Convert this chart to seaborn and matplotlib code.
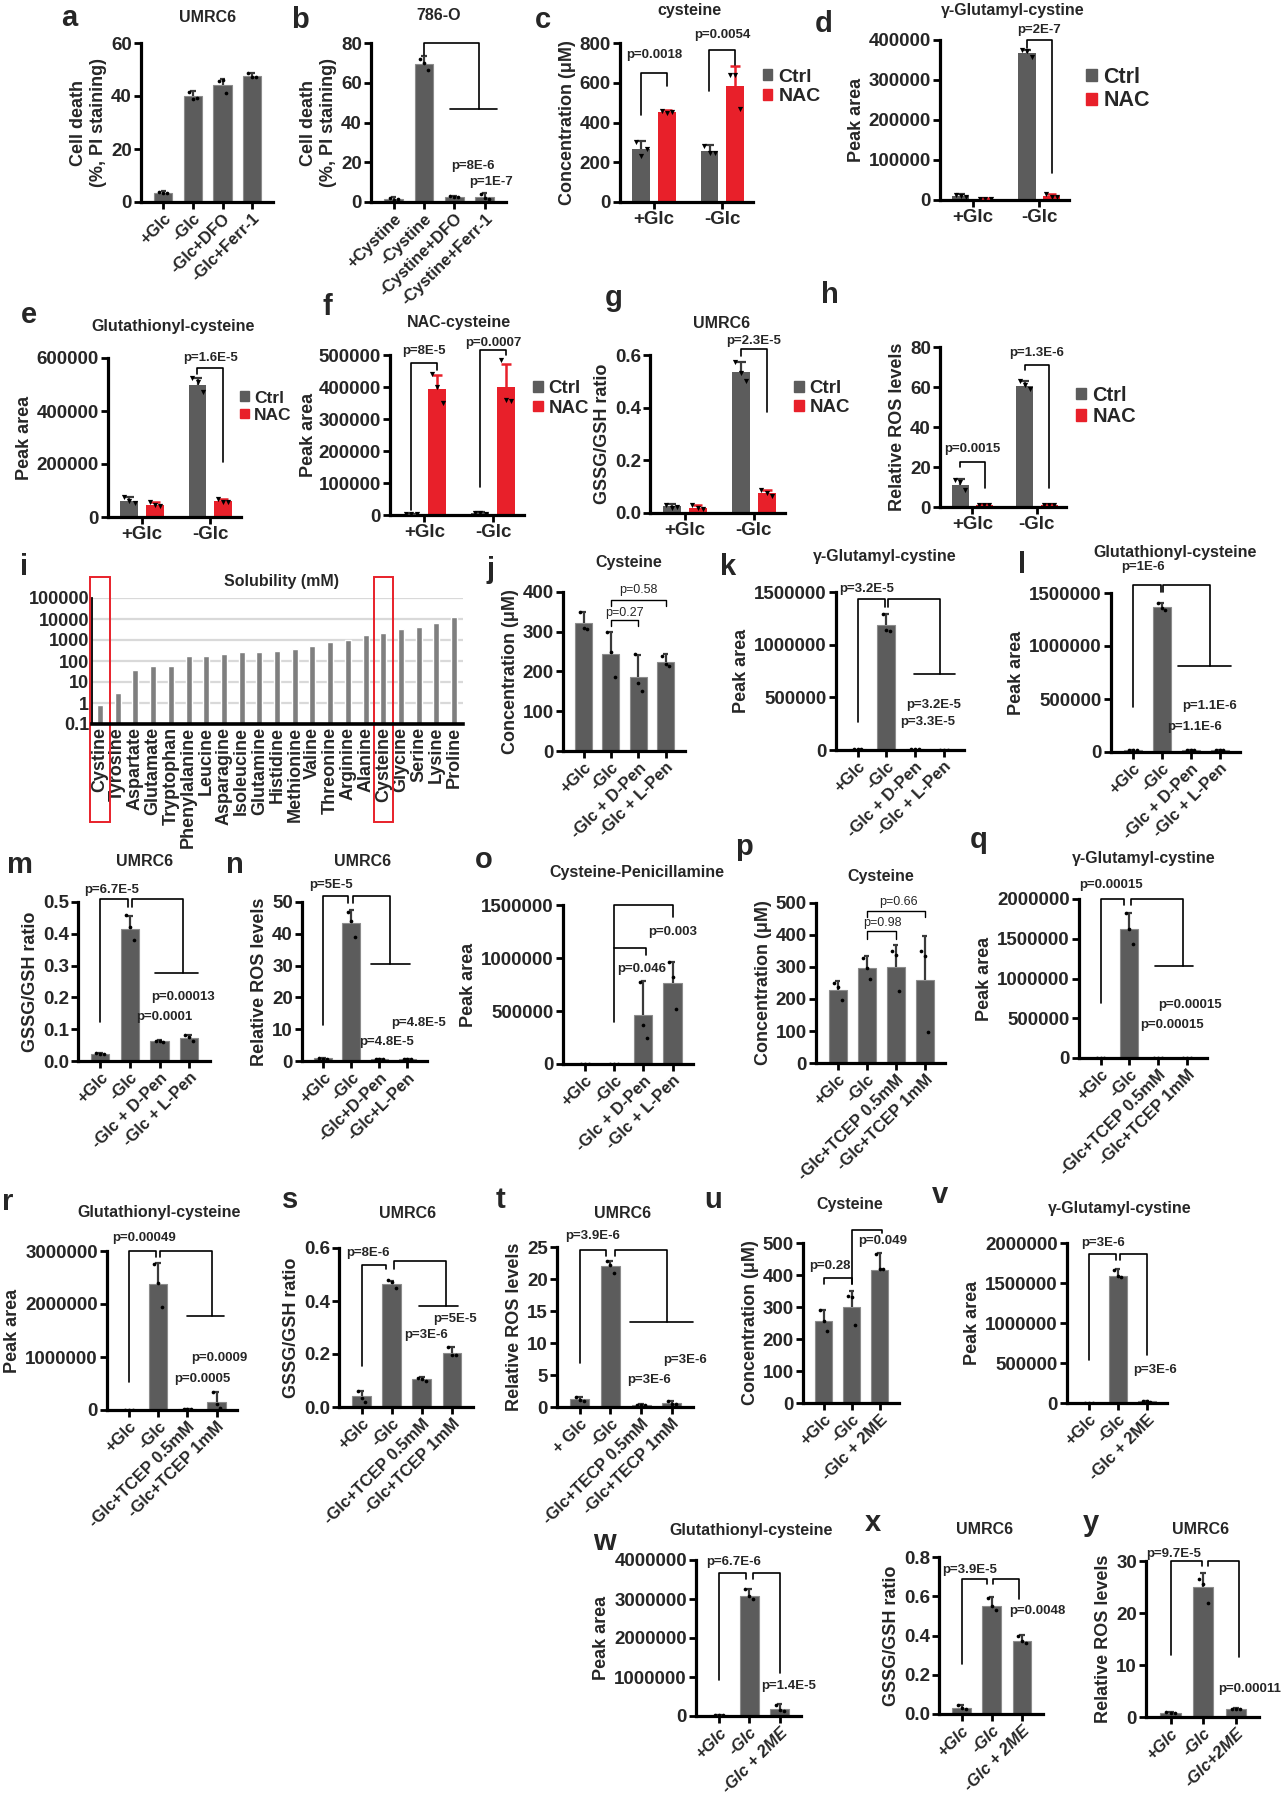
import numpy as np
import pandas as pd
import matplotlib
matplotlib.use('Agg')
import matplotlib.pyplot as plt
import seaborn as sns
from matplotlib.patches import Rectangle
from matplotlib.transforms import blended_transform_factory

sns.set_theme(style='ticks')
plt.rcParams['font.family'] = ['Liberation Sans', 'DejaVu Sans']
plt.rcParams['font.weight'] = 'bold'
NARROW = ['Liberation Sans Narrow', 'Liberation Sans', 'DejaVu Sans']

BAR = '#5c5c5c'
EDGE = '#8c8c8c'
ERR = '#3a3a3a'
RED = '#e8202a'
W, H = 1281, 1800
TICK = 13.5
XTICK = 12
YLAB = 13

# ---------------- data ----------------
a_labels = ['+Glc', '-Glc', '-Glc+DFO', '-Glc+Ferr-1']
a_mean = [3.5, 40, 44, 47.5]
a_sd = [0.5, 1.8, 2.5, 1.2]
a_pts = [[3.8, 3.3, 3.4], [41.5, 38.8, 39.2], [45.5, 46, 41], [48.5, 47, 47.3]]

b_labels = ['+Cystine', '-Cystine', '-Cystine+DFO', '-Cystine+Ferr-1']
b_mean = [1.5, 69.5, 2.5, 2.5]
b_sd = [0.8, 4.0, 0.6, 1.8]
b_pts = [[1.8, 1.0, 1.5], [72, 70, 66.5], [2.8, 2.3, 2.5], [3.8, 2.0, 1.6]]

groups = ['+Glc', '-Glc']
treat = ['Ctrl', 'NAC']

c_ctrl = [265, 255]
c_ctrl_sd = [40, 30]
c_nac = [455, 585]
c_nac_sd = [10, 100]
c_ctrl_pts = [[300, 230, 265], [280, 245, 245]]
c_nac_pts = [[458, 450, 455], [640, 640, 470]]

d_ctrl = [10000, 368000]
d_ctrl_sd = [4000, 8000]
d_nac = [3000, 10000]
d_nac_sd = [1000, 6000]
d_ctrl_pts = [[12000, 9000, 8000], [376000, 372000, 358000]]
d_nac_pts = [[3000, 3000, 3000], [15000, 8000, 7000]]

e_ctrl = [62000, 500000]
e_ctrl_sd = [15000, 25000]
e_nac = [47000, 60000]
e_nac_sd = [8000, 8000]
e_ctrl_pts = [[75000, 60000, 52000], [525000, 510000, 470000]]
e_nac_pts = [[55000, 45000, 42000], [68000, 58000, 55000]]

f_ctrl = [3000, 5000]
f_ctrl_sd = [1000, 3000]
f_nac = [395000, 400000]
f_nac_sd = [42000, 72000]
f_ctrl_pts = [[3000, 3000, 3000], [7000, 5000, 4000]]
f_nac_pts = [[440000, 400000, 350000], [485000, 360000, 355000]]

g_ctrl = [0.025, 0.535]
g_ctrl_sd = [0.01, 0.04]
g_nac = [0.02, 0.077]
g_nac_sd = [0.01, 0.01]
g_ctrl_pts = [[0.032, 0.02, 0.022], [0.575, 0.53, 0.5]]
g_nac_pts = [[0.03, 0.02, 0.015], [0.088, 0.075, 0.065]]

h_ctrl = [11, 60.5]
h_ctrl_sd = [3, 2.5]
h_nac = [1.0, 1.0]
h_nac_sd = [0.3, 0.3]
h_ctrl_pts = [[13.5, 12.5, 8.5], [63, 61, 59]]
h_nac_pts = [[1, 1, 1], [1, 1, 1]]

i_names = ['Cystine', 'Tyrosine', 'Aspartate', 'Glutamate', 'Tryptophan', 'Phenylalanine',
           'Leucine', 'Asparagine', 'Isoleucine', 'Glutamine', 'Histidine', 'Methionine',
           'Valine', 'Threonine', 'Arginine', 'Alanine', 'Cysteine', 'Glycine', 'Serine',
           'Lysine', 'Proline']
i_sol = [0.8, 2.9, 38, 61, 61, 165, 165, 220, 255, 255, 308, 370, 494, 795, 955, 1780,
         2140, 3460, 4150, 6450, 12500]

pen_labels = ['+Glc', '-Glc', '-Glc + D-Pen', '-Glc + L-Pen']
pen_labels_n = ['+Glc', '-Glc', '-Glc+D-Pen', '-Glc+L-Pen']
tcep_labels = ['+Glc', '-Glc', '-Glc+TCEP 0.5mM', '-Glc+TCEP 1mM']
tecp_labels = ['+ Glc', '-Glc', '-Glc+TECP 0.5mM', '-Glc+TECP 1mM']
me_labels = ['+Glc', '-Glc', '-Glc + 2ME']
me_labels_y = ['+Glc', '-Glc', '-Glc+2ME']

j_mean = [322, 245, 187, 225]
j_sd = [28, 55, 55, 18]
j_pts = [[350, 310, 308], [300, 250, 185], [245, 170, 150], [240, 220, 215]]

k_mean = [5000, 1190000, 5000, 3000]
k_sd = [0, 100000, 0, 0]
k_pts = [[5000] * 3, [1290000, 1140000, 1130000], [5000] * 3, [3000] * 3]

l_mean = [15000, 1370000, 20000, 20000]
l_sd = [3000, 40000, 3000, 3000]
l_pts = [[15000] * 3, [1410000, 1360000, 1340000], [20000] * 3, [20000] * 3]

m_mean = [0.022, 0.415, 0.063, 0.073]
m_sd = [0.003, 0.04, 0.002, 0.01]
m_pts = [[0.024, 0.022, 0.021], [0.46, 0.42, 0.38], [0.064, 0.064, 0.061], [0.082, 0.075, 0.063]]

n_mean = [0.8, 43.5, 0.5, 0.5]
n_sd = [0.3, 4, 0.2, 0.1]
n_pts = [[1, 0.7, 0.7], [47, 44, 39], [0.5, 0.5, 0.5], [0.6, 0.5, 0.5]]

o_mean = [0, 0, 460000, 768000]
o_sd = [0, 0, 320000, 190000]
o_pts = [[0] * 3, [0] * 3, [777000, 368000, 242000], [965000, 824000, 516000]]

p_mean = [228, 298, 300, 258]
p_sd = [27, 35, 68, 140]
p_pts = [[250, 238, 197], [327, 296, 264], [350, 338, 226], [349, 333, 97]]

q_mean = [0, 1620000, 0, 0]
q_sd = [0, 200000, 0, 0]
q_pts = [[0] * 3, [1820000, 1620000, 1430000], [0] * 3, [0] * 3]

r_mean = [5000, 2370000, 20000, 160000]
r_sd = [0, 400000, 5000, 180000]
r_pts = [[5000] * 3, [2750000, 2400000, 1950000], [25000, 20000, 15000], [340000, 110000, 30000]]

s_mean = [0.04, 0.465, 0.105, 0.205]
s_sd = [0.02, 0.012, 0.008, 0.02]
s_pts = [[0.06, 0.035, 0.02], [0.48, 0.47, 0.45], [0.11, 0.105, 0.1], [0.225, 0.195, 0.195]]

t_mean = [1.2, 22, 0.3, 0.6]
t_sd = [0.4, 0.8, 0.1, 0.3]
t_pts = [[1.6, 1.1, 1.0], [22.8, 22.2, 21], [0.35, 0.3, 0.25], [1, 0.5, 0.4]]

u_mean = [255, 300, 415]
u_sd = [35, 50, 55]
u_pts = [[290, 255, 225], [335, 330, 245], [465, 420, 420]]

v_mean = [3000, 1590000, 20000]
v_sd = [0, 80000, 5000]
v_pts = [[3000] * 3, [1660000, 1590000, 1570000], [25000, 20000, 15000]]

w_mean = [20000, 3080000, 180000]
w_sd = [5000, 180000, 120000]
w_pts = [[20000] * 3, [3250000, 3070000, 3000000], [290000, 160000, 120000]]

x_mean = [0.033, 0.55, 0.37]
x_sd = [0.012, 0.045, 0.035]
x_pts = [[0.045, 0.03, 0.025], [0.59, 0.55, 0.53], [0.4, 0.37, 0.36]]

y_mean = [0.8, 25, 1.5]
y_sd = [0.15, 2.6, 0.2]
y_pts = [[0.9, 0.8, 0.8], [26.5, 25.5, 22], [1.6, 1.5, 1.5]]

# ---------------- helpers ----------------
fig = plt.figure(figsize=(12.81, 18), dpi=100)
OFF = np.array([-0.13, 0.0, 0.13])


def add_ax(x0, y0, x1, y1):
    return fig.add_axes([x0 / W, 1 - y1 / H, (x1 - x0) / W, (y1 - y0) / H])


def ftext(x, y, s, size=11.5, **kw):
    fig.text(x / W, 1 - y / H, s, ha='center', va='center', fontsize=size,
             fontweight='bold', **kw)


def line(ax, xs, ys, lw=1.2):
    ax.plot(xs, ys, color='black', lw=lw, clip_on=False, zorder=6)


def ptext(ax, x, y, s, bold=True):
    ax.text(x, y, s, ha='center', va='center', fontsize=9.5 if bold else 9,
            fontweight='bold' if bold else 'normal', family=NARROW, clip_on=False)


def errs(ax, xs, mean, sd, cap=0.09):
    for x, m, e in zip(xs, mean, sd):
        if e > 0:
            ax.vlines(x, m, m + e, color=ERR, lw=1.6, zorder=3)
            ax.hlines(m + e, x - cap, x + cap, color=ERR, lw=1.6, zorder=3)


def finish(ax, ylim, step, ylabel, fmt, rot=45, italic=False, lpad=3):
    ticks = np.arange(ylim[0], ylim[1] + step / 2, step)
    ax.set_ylim(*ylim)
    ax.set_yticks(ticks)
    ax.set_yticklabels([fmt.format(v) for v in ticks])
    ax.set_xlabel('')
    ax.set_ylabel(ylabel, fontsize=YLAB, fontweight='bold', labelpad=lpad)
    sns.despine(ax=ax)
    for s in ['left', 'bottom']:
        ax.spines[s].set_linewidth(2.3)
        ax.spines[s].set_color('black')
    ax.tick_params(axis='both', width=2, length=5, labelsize=TICK, pad=1.5, color='black')
    for lab in ax.get_yticklabels():
        lab.set_fontweight('bold')
    for lab in ax.get_xticklabels():
        lab.set_fontweight('bold')
        if italic:
            lab.set_fontstyle('italic')
        if rot:
            lab.set_fontsize(XTICK)
            lab.set_rotation(rot)
            lab.set_ha('right')
            lab.set_rotation_mode('anchor')


def single(rect, labels, mean, sd, pts, ylim, step, ylabel, fmt='{:.0f}', italic=False):
    ax = add_ax(*rect)
    df = pd.DataFrame({'cond': labels, 'val': mean})
    sns.barplot(data=df, x='cond', y='val', color=BAR, width=0.62, errorbar=None,
                edgecolor=EDGE, linewidth=0.8, saturation=1, ax=ax)
    n = len(labels)
    errs(ax, range(n), mean, sd)
    for i, p in enumerate(pts):
        ax.scatter(i + OFF, p, s=7, color='black', zorder=4, linewidths=0)
    ax.set_xlim(-0.75, n - 0.3)
    finish(ax, ylim, step, ylabel, fmt, italic=italic)
    return ax


def grouped(rect, ctrl, ctrl_sd, nac, nac_sd, ctrl_pts, nac_pts, ylim, step, ylabel,
            fmt='{:.0f}', leg_x=1.0, leg_y=0.9, leg_fs=13, lpad=3):
    ax = add_ax(*rect)
    df = pd.DataFrame({'grp': [g for g in groups for _ in treat],
                       'trt': treat * len(groups),
                       'val': [v for pair in zip(ctrl, nac) for v in pair]})
    sns.barplot(data=df, x='grp', y='val', hue='trt', hue_order=treat,
                palette={'Ctrl': BAR, 'NAC': RED}, width=0.75, gap=0.3,
                errorbar=None, saturation=1, legend=False, ax=ax,
                edgecolor='none')
    xc = np.arange(len(groups)) - 0.1875
    xn = np.arange(len(groups)) + 0.1875
    errs(ax, xc, ctrl, ctrl_sd, cap=0.07)
    for x, m, e in zip(xn, nac, nac_sd):
        if e > 0:
            ax.vlines(x, m, m + e, color=RED, lw=1.8, zorder=3)
            ax.hlines(m + e, x - 0.07, x + 0.07, color=RED, lw=1.8, zorder=3)
    for x, p in zip(list(xc) + list(xn), ctrl_pts + nac_pts):
        ax.scatter(x + OFF * 0.6, p, s=14, marker='v', color='black', zorder=4, linewidths=0)
    ax.set_xlim(-0.5, 1.45)
    finish(ax, ylim, step, ylabel, fmt, rot=0, lpad=lpad)
    handles = [Rectangle((0, 0), 1, 1, color=BAR), Rectangle((0, 0), 1, 1, color=RED)]
    ax.legend(handles, treat, loc='upper left', bbox_to_anchor=(leg_x, leg_y), frameon=False,
              handlelength=0.5, handleheight=0.5, handletextpad=0.3, labelspacing=0.12,
              fontsize=leg_fs, borderaxespad=0.1)
    return ax


# ---------------- row 1 ----------------
ax = single((141, 43, 273, 202), a_labels, a_mean, a_sd, a_pts, (0, 60), 20,
            'Cell death\n(%, PI staining)')
ftext(208, 18, 'UMRC6')
ftext(69, 18, 'a', size=21)

ax = single((371, 43, 506, 202), b_labels, b_mean, b_sd, b_pts, (0, 80), 20,
            'Cell death\n(%, PI staining)')
line(ax, [1, 1, 2.8, 2.8], [74, 80, 80, 47])
line(ax, [1.85, 3.4], [47, 47])
ptext(ax, 2.6, 18, 'p=8E-6')
ptext(ax, 3.2, 10, 'p=1E-7')
ftext(439, 15, '786-O')
ftext(300, 20, 'b', size=21)

ax = grouped((620, 43, 753, 202), c_ctrl, c_ctrl_sd, c_nac, c_nac_sd, c_ctrl_pts, c_nac_pts,
             (0, 800), 200, 'Concentration (μM)', leg_fs=14)
line(ax, [-0.19, -0.19, 0.19, 0.19], [440, 650, 650, 585])
ptext(ax, 0, 740, 'p=0.0018')
line(ax, [0.81, 0.81, 1.19, 1.19], [560, 766, 766, 690])
ptext(ax, 1, 838, 'p=0.0054')
ftext(689, 10, 'cysteine')
ftext(543, 20, 'c', size=21)

ax = grouped((940, 40, 1069, 200), d_ctrl, d_ctrl_sd, d_nac, d_nac_sd, d_ctrl_pts, d_nac_pts,
             (0, 400000), 100000, 'Peak area', leg_x=1.05, leg_fs=15.5)
line(ax, [0.81, 0.81, 1.19, 1.19], [380000, 401000, 401000, 67000])
ptext(ax, 1, 425000, 'p=2E-7')
ftext(1013, 10, 'γ-Glutamyl-cystine')
ftext(824, 24, 'd', size=21)

# ---------------- row 2 ----------------
ax = grouped((108, 358, 241, 517), e_ctrl, e_ctrl_sd, e_nac, e_nac_sd, e_ctrl_pts, e_nac_pts,
             (0, 600000), 200000, 'Peak area', leg_x=0.93, leg_y=0.85, leg_fs=12.5)
line(ax, [0.81, 0.81, 1.19, 1.19], [540000, 562000, 562000, 206000])
ptext(ax, 1, 600000, 'p=1.6E-5')
ftext(173, 327, 'Glutathionyl-cysteine')
ftext(29, 315, 'e', size=21)

ax = grouped((390, 355, 524, 515), f_ctrl, f_ctrl_sd, f_nac, f_nac_sd, f_ctrl_pts, f_nac_pts,
             (0, 500000), 100000, 'Peak area', leg_y=0.9, leg_fs=13.5, lpad=1)
line(ax, [-0.19, -0.19, 0.19, 0.19], [15600, 476000, 476000, 453000])
ptext(ax, 0, 512000, 'p=8E-5')
line(ax, [0.81, 0.81, 1.19, 1.19], [88500, 516000, 516000, 500000])
ptext(ax, 1, 538000, 'p=0.0007')
ftext(459, 323, 'NAC-cysteine')
ftext(327, 307, 'f', size=21)

ax = grouped((650, 355, 785, 513), g_ctrl, g_ctrl_sd, g_nac, g_nac_sd, g_ctrl_pts, g_nac_pts,
             (0, 0.6), 0.2, 'GSSG/GSH ratio', fmt='{:.1f}', leg_y=0.9, leg_fs=13.5)
line(ax, [0.81, 0.81, 1.19, 1.19], [0.596, 0.621, 0.621, 0.385])
ptext(ax, 1, 0.655, 'p=2.3E-5')
ftext(722, 323, 'UMRC6')
ftext(614, 298, 'g', size=21)

ax = grouped((940, 347, 1066, 507), h_ctrl, h_ctrl_sd, h_nac, h_nac_sd, h_ctrl_pts, h_nac_pts,
             (0, 80), 20, 'Relative ROS levels', leg_y=0.82, leg_fs=14.5)
line(ax, [-0.19, -0.19, 0.19, 0.19], [20.2, 22.7, 22.7, 9.5])
ptext(ax, 0, 29, 'p=0.0015')
line(ax, [0.81, 0.81, 1.19, 1.19], [68.4, 70.9, 70.9, 9.5])
ptext(ax, 1, 77, 'p=1.3E-6')
ftext(830, 295, 'h', size=21)

# ---------------- panel i ----------------
ax = add_ax(92, 598, 463, 724)
df_i = pd.DataFrame({'aa': i_names, 'sol': i_sol})
sns.barplot(data=df_i, x='aa', y='sol', color='#7f7f7f', width=0.34, errorbar=None,
            saturation=1, ax=ax)
ax.set_yscale('log')
ax.set_ylim(0.1, 100000)
ax.set_xlim(-0.45, len(i_names) - 0.5)
ax.set_yticks([0.1, 1, 10, 100, 1000, 10000, 100000])
ax.set_yticklabels(['0.1', '1', '10', '100', '1000', '10000', '100000'])
ax.minorticks_off()
ax.yaxis.grid(True, color='#d9d9d9', lw=1.6)
ax.set_axisbelow(True)
ax.set_xlabel('')
ax.set_ylabel('')
sns.despine(ax=ax)
ax.spines['bottom'].set_linewidth(2.6)
ax.spines['bottom'].set_color('black')
ax.spines['left'].set_linewidth(1.3)
ax.spines['left'].set_color('black')
ax.tick_params(axis='both', length=0, labelsize=13, pad=2)
for lab in ax.get_xticklabels():
    lab.set_rotation(90)
    lab.set_fontweight('bold')
for lab in ax.get_yticklabels():
    lab.set_fontweight('bold')
tr = blended_transform_factory(ax.transData, ax.transAxes)
for k in [i_names.index('Cystine'), i_names.index('Cysteine')]:
    ax.add_patch(Rectangle((k - 0.55, -0.78), 1.1, 1.95, transform=tr, fill=False,
                           edgecolor=RED, lw=1.4, clip_on=False))
ftext(282, 582, 'Solubility (mM)', size=11.5)
ftext(24, 567, 'i', size=21)

# ---------------- row 3 ----------------
ax = single((563, 592, 685, 751), pen_labels, j_mean, j_sd, j_pts, (0, 400), 100,
            'Concentration (μM)')
line(ax, [1, 1, 2, 2], [314, 329, 329, 314], lw=1)
ptext(ax, 1.5, 347, 'p=0.27', bold=False)
line(ax, [1, 1, 3, 3], [366, 381, 381, 366], lw=1)
ptext(ax, 2, 404, 'p=0.58', bold=False)
ftext(629, 563, 'Cysteine')
ftext(490, 570, 'j', size=21)

ax = single((836, 592, 964, 750), pen_labels, k_mean, k_sd, k_pts, (0, 1500000), 500000,
            'Peak area')
line(ax, [0, 0, 0.95, 0.95], [270000, 1437000, 1437000, 1358000])
line(ax, [1.05, 1.05, 2.88, 2.88], [1358000, 1437000, 1437000, 717000])
line(ax, [1.95, 3.4], [717000, 717000])
ptext(ax, 0.33, 1532000, 'p=3.2E-5')
ptext(ax, 2.66, 426000, 'p=3.2E-5')
ptext(ax, 2.44, 268000, 'p=3.3E-5')
ftext(885, 557, 'γ-Glutamyl-cystine')
ftext(728, 567, 'k', size=21)

ax = single((1111, 593, 1240, 752), pen_labels, l_mean, l_sd, l_pts, (0, 1500000), 500000,
            'Peak area')
line(ax, [0, 0, 0.96, 0.96], [427000, 1578000, 1578000, 1509000])
line(ax, [1.04, 1.04, 2.65, 2.65], [1509000, 1578000, 1578000, 813000])
line(ax, [1.55, 3.4], [813000, 813000])
ptext(ax, 0.37, 1745000, 'p=1E-6')
ptext(ax, 2.65, 436000, 'p=1.1E-6')
ptext(ax, 2.13, 238000, 'p=1.1E-6')
ftext(1175, 553, 'Glutathionyl-cysteine')
ftext(1022, 565, 'l', size=21)

# ---------------- row 4 ----------------
ax = single((78, 902, 210, 1061), pen_labels, m_mean, m_sd, m_pts, (0, 0.5), 0.1,
            'GSSG/GSH ratio', fmt='{:.1f}')
line(ax, [0, 0, 0.93, 0.93], [0.123, 0.51, 0.51, 0.484])
line(ax, [1.07, 1.07, 2.8, 2.8], [0.484, 0.51, 0.51, 0.277])
line(ax, [1.86, 3.3], [0.277, 0.277])
ptext(ax, 0.38, 0.539, 'p=6.7E-5')
ptext(ax, 2.8, 0.2, 'p=0.00013')
ptext(ax, 2.17, 0.138, 'p=0.0001')
ftext(145, 862, 'UMRC6')
ftext(20, 865, 'm', size=21)

ax = single((302, 902, 427, 1061), pen_labels_n, n_mean, n_sd, n_pts, (0, 50), 10,
            'Relative ROS levels')
line(ax, [0, 0, 0.9, 0.9], [11.2, 51.8, 51.8, 49.7])
line(ax, [1.07, 1.07, 2.4, 2.4], [49.7, 51.8, 51.8, 30.4])
line(ax, [1.7, 3.1], [30.4, 30.4])
ptext(ax, 0.28, 55.3, 'p=5E-5')
ptext(ax, 3.4, 12, 'p=4.8E-5')
ptext(ax, 2.25, 5.9, 'p=4.8E-5')
ftext(363, 862, 'UMRC6')
ftext(235, 865, 'n', size=21)

ax = single((563, 905, 693, 1064), pen_labels, o_mean, o_sd, o_pts, (0, 1500000), 500000,
            'Peak area')
line(ax, [1, 1, 3, 3], [400000, 1500000, 1500000, 1390000])
line(ax, [1, 2.1, 2.1], [1091000, 1091000, 1028000])
ptext(ax, 3.0, 1248000, 'p=0.003')
ptext(ax, 1.95, 893000, 'p=0.046')
ftext(637, 873, 'Cysteine-Penicillamine')
ftext(484, 860, 'o', size=21)

ax = single((816, 903, 945, 1063), tcep_labels, p_mean, p_sd, p_pts, (0, 500), 100,
            'Concentration (μM)')
line(ax, [1, 1, 2, 2], [387, 411, 411, 387], lw=1)
line(ax, [1, 1, 3, 3], [455, 476, 476, 455], lw=1)
ptext(ax, 1.55, 439, 'p=0.98', bold=False)
ptext(ax, 2.1, 502, 'p=0.66', bold=False)
ftext(881, 877, 'Cysteine')
ftext(744, 847, 'p', size=21)

ax = single((1079, 899, 1207, 1058), tcep_labels, q_mean, q_sd, q_pts, (0, 2000000), 500000,
            'Peak area')
line(ax, [0, 0, 0.82, 0.82], [692000, 2000000, 2000000, 1929000])
line(ax, [1.05, 1.05, 2.85, 2.85], [1929000, 2000000, 2000000, 1161000])
line(ax, [1.9, 3.2], [1161000, 1161000])
ptext(ax, 0.35, 2180000, 'p=0.00015')
ptext(ax, 3.1, 662000, 'p=0.00015')
ptext(ax, 2.5, 411000, 'p=0.00015')
ftext(1144, 858, 'γ-Glutamyl-cystine')
ftext(979, 840, 'q', size=21)

# ---------------- row 5 ----------------
ax = single((107, 1251, 237, 1410), tcep_labels, r_mean, r_sd, r_pts, (0, 3000000), 1000000,
            'Peak area')
line(ax, [0, 0, 0.93, 0.93], [535000, 3000000, 3000000, 2893000])
line(ax, [1.07, 1.07, 2.85, 2.85], [2893000, 3000000, 3000000, 1774000])
line(ax, [2.0, 3.25], [1774000, 1774000])
ptext(ax, 0.52, 3239000, 'p=0.00049')
ptext(ax, 3.1, 975000, 'p=0.0009')
ptext(ax, 2.5, 585000, 'p=0.0005')
ftext(159, 1212, 'Glutathionyl-cysteine')
ftext(8, 1202, 'r', size=21)

ax = single((339, 1248, 473, 1407), tcep_labels, s_mean, s_sd, s_pts, (0, 0.6), 0.2,
            'GSSG/GSH ratio', fmt='{:.1f}')
line(ax, [0, 0, 0.8, 0.8], [0.156, 0.537, 0.537, 0.521])
line(ax, [1.07, 1.07, 2.8, 2.8], [0.521, 0.55, 0.55, 0.38])
line(ax, [1.9, 3.2], [0.38, 0.38])
ptext(ax, 0.2, 0.581, 'p=8E-6')
ptext(ax, 3.1, 0.332, 'p=5E-5')
ptext(ax, 2.15, 0.27, 'p=3E-6')
ftext(408, 1213, 'UMRC6')
ftext(290, 1200, 's', size=21)

ax = single((557, 1247, 693, 1407), tecp_labels, t_mean, t_sd, t_pts, (0, 25), 5,
            'Relative ROS levels')
line(ax, [0, 0, 0.86, 0.86], [6.8, 24.6, 24.6, 23.6])
line(ax, [1.14, 1.14, 2.85, 2.85], [23.6, 24.6, 24.6, 13.3])
line(ax, [1.65, 3.7], [13.3, 13.3])
ptext(ax, 0.43, 26.7, 'p=3.9E-6')
ptext(ax, 3.45, 7.3, 'p=3E-6')
ptext(ax, 2.25, 4.2, 'p=3E-6')
ftext(623, 1213, 'UMRC6')
ftext(500, 1200, 't', size=21)

ax = single((803, 1243, 899, 1403), me_labels, u_mean, u_sd, u_pts, (0, 500), 100,
            'Concentration (μM)')
line(ax, [0, 0, 1, 1], [373, 392, 392, 373])
ptext(ax, 0.2, 427, 'p=0.28')
line(ax, [1, 1, 2.1, 2.1], [373, 542, 542, 531])
ptext(ax, 2.1, 506, 'p=0.049')
ftext(850, 1204, 'Cysteine')
ftext(713, 1200, 'u', size=21)

ax = single((1067, 1243, 1167, 1403), me_labels, v_mean, v_sd, v_pts, (0, 2000000), 500000,
            'Peak area')
line(ax, [0, 0, 0.93, 0.93], [533000, 1867000, 1867000, 1783000])
line(ax, [1.08, 1.08, 2.0, 2.0], [1783000, 1867000, 1867000, 596000])
ptext(ax, 0.5, 2000000, 'p=3E-6')
ptext(ax, 2.3, 408000, 'p=3E-6')
ftext(1120, 1208, 'γ-Glutamyl-cystine')
ftext(940, 1195, 'v', size=21)

# ---------------- row 6 ----------------
ax = single((696, 1560, 801, 1716), me_labels, w_mean, w_sd, w_pts, (0, 4000000), 1000000,
            'Peak area', italic=True)
line(ax, [0, 0, 0.9, 0.9], [926000, 3663000, 3663000, 3511000])
line(ax, [1.12, 1.12, 2.0, 2.0], [3511000, 3663000, 3663000, 1095000])
ptext(ax, 0.47, 3958000, 'p=6.7E-6')
ptext(ax, 2.3, 758000, 'p=1.4E-5')
ftext(751, 1530, 'Glutathionyl-cysteine')
ftext(604, 1542, 'w', size=21)

ax = single((939, 1557, 1043, 1714), me_labels, x_mean, x_sd, x_pts, (0, 0.8), 0.2,
            'GSSG/GSH ratio', fmt='{:.1f}', italic=True)
line(ax, [0, 0, 0.85, 0.85], [0.254, 0.69, 0.69, 0.661])
line(ax, [1.05, 1.05, 1.92, 1.92], [0.661, 0.69, 0.69, 0.586])
ptext(ax, 0.28, 0.736, 'p=3.9E-5')
ptext(ax, 2.5, 0.527, 'p=0.0048')
ftext(985, 1530, 'UMRC6')
ftext(873, 1523, 'x', size=21)

ax = single((1146, 1561, 1259, 1717), me_labels_y, y_mean, y_sd, y_pts, (0, 30), 10,
            'Relative ROS levels', italic=True)
line(ax, [0, 0, 0.97, 0.97], [11.9, 30, 30, 29])
line(ax, [1.15, 1.15, 2.1, 2.1], [29, 30, 30, 11.6])
ptext(ax, 0.1, 31.4, 'p=9.7E-5')
ptext(ax, 2.4, 5.3, 'p=0.00011')
ftext(1201, 1530, 'UMRC6')
ftext(1091, 1523, 'y', size=21)

fig.savefig('out.png', dpi=100, facecolor='white')
